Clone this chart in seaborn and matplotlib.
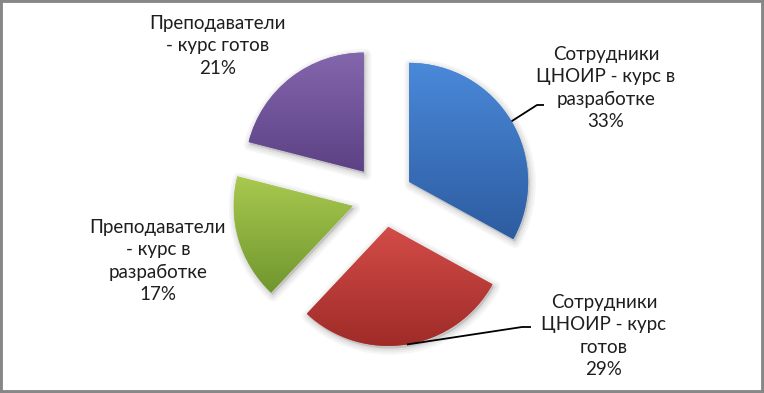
import numpy as np
import matplotlib
matplotlib.use("Agg")
import matplotlib.pyplot as plt
import seaborn as sns
from matplotlib.patches import Rectangle, Wedge
from matplotlib.colors import LinearSegmentedColormap

# ---- data ----
categories = ["Сотрудники ЦНОИР - курс в разработке",
              "Сотрудники ЦНОИР - курс готов",
              "Преподаватели - курс в разработке",
              "Преподаватели - курс готов"]
label_lines = ["Сотрудники\nЦНОИР - курс в\nразработке",
               "Сотрудники\nЦНОИР - курс\nготов",
               "Преподаватели\n- курс в\nразработке",
               "Преподаватели\n- курс готов"]
values = [33, 29, 17, 21]

# ---- style ----
top_colors = ["#4a89d9", "#d34c48", "#a9c94f", "#8466ac"]
bottom_colors = ["#2d5ca0", "#9f2b28", "#6f962e", "#5c4185"]
explode = [0.25, 0.255, 0.27, 0.27]

sns.set_theme(style="white")
plt.rcParams["font.family"] = ["Lato", "DejaVu Sans"]

W, H = 764, 393
R_PX = 119.0           # pie radius in pixels
CX, CY = 383.5, 197    # pie centre in pixels (from top-left)


def px(x, y):
    """pixel position (from top-left) -> data units (pie radius = 1)"""
    return (x - CX) / R_PX, (CY - y) / R_PX


fig = plt.figure(figsize=(W / 100, H / 100), dpi=100)
fig.patch.set_facecolor("white")
ax = fig.add_axes([0, 0, 1, 1])

wedges, _ = ax.pie(values, explode=explode, radius=1, center=(0, 0),
                   startangle=90, counterclock=False, colors=top_colors,
                   wedgeprops=dict(linewidth=0, zorder=3))

# soft shadows
for w in wedges:
    c = (w.center[0] + 1.5 / R_PX, w.center[1] - 2.5 / R_PX)
    for lw, a in [(9, 0.035), (6, 0.04), (3, 0.05)]:
        sh = Wedge(c, w.r, w.theta1, w.theta2, facecolor="black",
                   edgecolor="black", lw=lw, alpha=a, joinstyle="round", zorder=2)
        ax.add_patch(sh)

# vertical gradients clipped to each wedge
grad = np.linspace(0, 1, 256).reshape(-1, 1)
for w, ct, cb in zip(wedges, top_colors, bottom_colors):
    bb = w.get_path().get_extents()
    cmap = LinearSegmentedColormap.from_list("g", [cb, ct])
    im = ax.imshow(grad, cmap=cmap, extent=[bb.x0, bb.x1, bb.y0, bb.y1],
                   origin="lower", aspect="auto", zorder=3.5,
                   interpolation="bicubic")
    im.set_clip_path(w)

x0, y1 = px(0, 0)
x1, y0 = px(W, H)
ax.set_xlim(x0, x1)
ax.set_ylim(y0, y1)
ax.set_aspect("equal")
ax.axis("off")

total = sum(values)
pcts = [f"{round(v / total * 100)}%" for v in values]

text_pos = [(606, 88), (604, 336), (158, 261), (218, 46)]
for lab, p, (x, y) in zip(label_lines, pcts, text_pos):
    ax.text(*px(x, y), lab + "\n" + p, ha="center", va="center",
            fontsize=13.5, color="#1e1e1e", linespacing=1.38, zorder=5)


def arc_mid(w):
    th = np.deg2rad((w.theta1 + w.theta2) / 2)
    return w.center[0] + w.r * np.cos(th), w.center[1] + w.r * np.sin(th)


leaders = {0: [(537, 105), (544, 105)], 1: [(522, 327), (531, 327)]}
for i, pts in leaders.items():
    p0 = arc_mid(wedges[i])
    xy = [p0] + [px(*p) for p in pts]
    ax.plot([q[0] for q in xy], [q[1] for q in xy], color="black", lw=1.3,
            zorder=6, solid_capstyle="butt")

fig.patches.append(Rectangle((0, 0), 1, 1, transform=fig.transFigure,
                             fill=False, edgecolor="#878787", lw=4.2))

fig.savefig("out.png", dpi=100)
